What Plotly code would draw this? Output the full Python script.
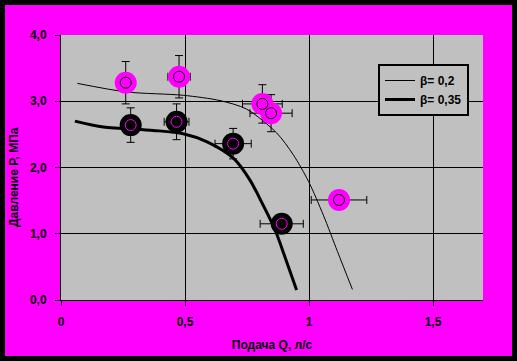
import plotly.graph_objects as go

# ---- data ----
# measured points, beta = 0.2
q_02 = [0.261, 0.476, 0.812, 0.847, 1.121]
p_02 = [3.28, 3.37, 2.96, 2.82, 1.51]
eq_02 = [0.0, 0.045, 0.08, 0.085, 0.112]
ep_02 = [0.32, 0.32, 0.29, 0.28, 0.0]

# measured points, beta = 0.35
q_035 = [0.281, 0.466, 0.694, 0.890]
p_035 = [2.64, 2.69, 2.36, 1.15]
eq_035 = [0.0, 0.05, 0.073, 0.087]
ep_035 = [0.26, 0.27, 0.23, 0.0]

# stray point just below the axis
q_extra = [1.262]
p_extra = [-0.065]
eq_extra = [0.125]

# fitted curves
curve_q_02 = [0.066, 0.265, 0.493, 0.641, 0.749, 0.870, 0.937, 0.998, 1.058, 1.115, 1.175]
curve_p_02 = [3.27, 3.14, 3.09, 3.01, 2.88, 2.52, 2.19, 1.79, 1.28, 0.73, 0.16]
curve_q_035 = [0.056, 0.171, 0.372, 0.493, 0.587, 0.695, 0.762, 0.810, 0.863, 0.903, 0.950]
curve_p_035 = [2.70, 2.61, 2.56, 2.51, 2.39, 2.14, 1.81, 1.47, 1.06, 0.65, 0.15]

x_tickvals = [0, 0.5, 1, 1.5]
x_ticktext = ["0", "0,5", "1", "1,5"]
y_tickvals = [0, 1, 2, 3, 4]
y_ticktext = ["0,0", "1,0", "2,0", "3,0", "4,0"]

MAG = "#FF00FF"
GRAY = "#C0C0C0"
FONT = dict(family="Liberation Sans, Arial, sans-serif", size=12, color="black", weight="bold")

fig = go.Figure()

# curves
fig.add_trace(go.Scatter(x=curve_q_02, y=curve_p_02, mode="lines", name="β= 0,2",
                         line=dict(color="black", width=1, shape="spline", smoothing=0.8)))
fig.add_trace(go.Scatter(x=curve_q_035, y=curve_p_035, mode="lines", name="β= 0,35",
                         line=dict(color="black", width=3, shape="spline", smoothing=0.8)))

# error bars (drawn beneath markers)
def err_trace(x, y, ex, ey=None, clip=True):
    return go.Scatter(
        x=x, y=y, mode="markers", showlegend=False, hoverinfo="skip",
        marker=dict(size=1, color="rgba(0,0,0,0)"),
        error_x=dict(type="data", array=ex, visible=True, color="black", thickness=1, width=4),
        error_y=dict(type="data", array=ey if ey is not None else [0] * len(x),
                     visible=ey is not None, color="black", thickness=1, width=4),
        cliponaxis=clip,
    )

fig.add_trace(err_trace(q_02, p_02, eq_02, ep_02))
fig.add_trace(err_trace(q_035, p_035, eq_035, ep_035))
fig.add_trace(go.Scatter(
    x=q_extra, y=p_extra, mode="markers", showlegend=False, hoverinfo="skip",
    marker=dict(symbol="line-ew", size=7, color="black", line=dict(color="black", width=2)),
    error_x=dict(type="data", array=eq_extra, visible=True, color="black", thickness=1, width=3),
    cliponaxis=False,
))

# markers beta = 0.2
fig.add_trace(go.Scatter(x=q_02, y=p_02, mode="markers", showlegend=False,
                         marker=dict(size=22, color=MAG, line=dict(width=0))))
fig.add_trace(go.Scatter(x=q_02, y=p_02, mode="markers", showlegend=False,
                         marker=dict(size=11, symbol="circle-open", color="black", line=dict(width=1, color="black"))))
# markers beta = 0.35
fig.add_trace(go.Scatter(x=q_035, y=p_035, mode="markers", showlegend=False,
                         marker=dict(size=22, color="black", line=dict(width=0))))
fig.add_trace(go.Scatter(x=q_035, y=p_035, mode="markers", showlegend=False,
                         marker=dict(size=11, symbol="circle-open", color=MAG, line=dict(width=1, color=MAG))))

L, R, T, B = 61, 34, 35, 61
W, H = 517, 361
pw, ph = W - L - R, H - T - B

def px_x(px):
    return (px - L) / pw

def px_y(py):
    return (H - B - py) / ph

fig.update_layout(
    width=W, height=H,
    margin=dict(l=L, r=R, t=T, b=B, pad=0),
    paper_bgcolor=MAG, plot_bgcolor=GRAY,
    font=FONT,
    showlegend=True,
    legend=dict(x=px_x(378), y=px_y(64), xanchor="left", yanchor="top",
                bgcolor=GRAY, bordercolor="black", borderwidth=2,
                font=FONT, itemwidth=30),
    xaxis=dict(range=[0, 1.7016], tickvals=x_tickvals, ticktext=x_ticktext,
               showgrid=True, gridcolor="black", gridwidth=1, zeroline=False,
               showline=True, linecolor="black", linewidth=1,
               ticks="outside", ticklen=5, tickcolor="black", tickwidth=1,
               ticklabelstandoff=6, tickfont=FONT,
               title=dict(text="Подача Q, л/с", font=FONT, standoff=12)),
    yaxis=dict(range=[0, 4], tickvals=y_tickvals, ticktext=y_ticktext,
               showgrid=True, gridcolor="black", gridwidth=1, zeroline=False,
               showline=True, linecolor="black", linewidth=1,
               ticks="outside", ticklen=5, tickcolor="black", tickwidth=1,
               ticklabelstandoff=6, tickfont=FONT),
    annotations=[dict(text="Давление Р, МПа", textangle=-90, xref="paper", yref="paper",
                      x=px_x(14), y=px_y(177), xanchor="center", yanchor="middle",
                      showarrow=False, font=FONT)],
    shapes=[dict(type="rect", xref="paper", yref="paper", layer="above",
                 x0=px_x(2.5), x1=px_x(514.5), y0=px_y(358.5), y1=px_y(2.5),
                 line=dict(color="black", width=5), fillcolor="rgba(0,0,0,0)")],
)

fig.write_html("out.html")
